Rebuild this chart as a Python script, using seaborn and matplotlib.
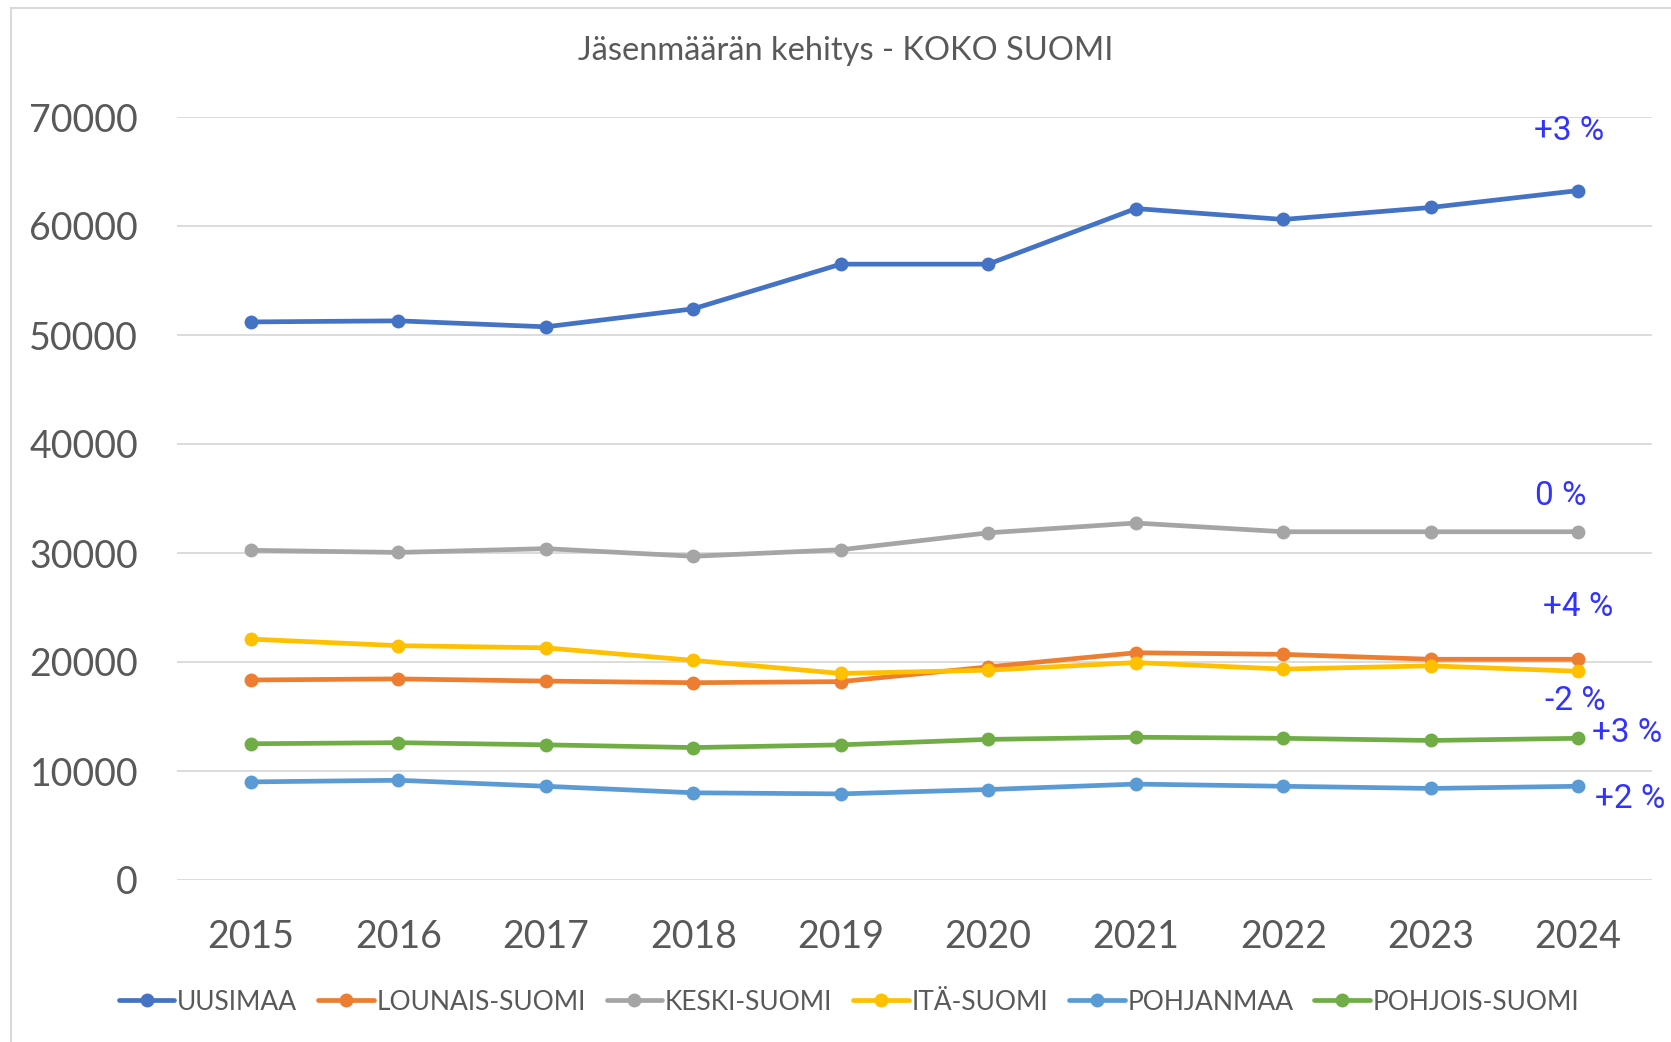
import matplotlib
matplotlib.use("Agg")
import matplotlib.pyplot as plt
import seaborn as sns
import pandas as pd
from matplotlib.patches import Rectangle

years = [2015, 2016, 2017, 2018, 2019, 2020, 2021, 2022, 2023, 2024]
regions = ["UUSIMAA", "LOUNAIS-SUOMI", "KESKI-SUOMI", "ITÄ-SUOMI", "POHJANMAA", "POHJOIS-SUOMI"]
uusimaa = [51200, 51300, 50750, 52400, 56500, 56500, 61600, 60600, 61700, 63250]
lounais = [18350, 18450, 18250, 18100, 18200, 19550, 20850, 20700, 20250, 20250]
keski = [30250, 30050, 30400, 29700, 30300, 31850, 32750, 31950, 31950, 31950]
ita = [22100, 21500, 21300, 20150, 18950, 19250, 19950, 19350, 19650, 19150]
pohjanmaa = [9000, 9150, 8600, 8000, 7900, 8300, 8800, 8600, 8400, 8600]
pohjois = [12500, 12600, 12400, 12150, 12400, 12900, 13100, 13000, 12800, 13000]
colors = ["#4472C4", "#ED7D31", "#A5A5A5", "#FFC000", "#5B9BD5", "#70AD47"]
changes = ["+3 %", "+4 %", "0 %", "-2 %", "+2 %", "+3 %"]
label_x = [2023.94, 2024.0, 2023.88, 2023.98, 2024.35, 2024.33]
label_y = [68700, 25050, 35200, 16400, 7400, 13500]

series = [uusimaa, lounais, keski, ita, pohjanmaa, pohjois]
rows = []
for reg, vals in zip(regions, series):
    for yr, v in zip(years, vals):
        rows.append({"year": yr, "value": v, "region": reg})
df = pd.DataFrame(rows)

sns.set_theme(style="white")
plt.rcParams["font.family"] = ["Lato", "DejaVu Sans"]

fig = plt.figure(figsize=(16.71, 10.42), dpi=100)
ax = fig.add_axes([177/1671, 1-880/1042, 1475/1671, 763/1042])

sns.lineplot(data=df, x="year", y="value", hue="region", hue_order=regions,
             palette=colors, marker="o", markersize=10, markeredgewidth=0,
             linewidth=3.4, ax=ax, legend=True)

ax.set_xlim(2014.5, 2024.5)
ax.set_ylim(0, 70000)
ax.set_xticks(years)
ax.set_xticklabels([str(y) for y in years])
ax.set_yticks(range(0, 70001, 10000))
ax.set_yticklabels([str(v) for v in range(0, 70001, 10000)])
ax.tick_params(axis="both", labelsize=27, colors="#595959", length=0)
ax.tick_params(axis="x", pad=28)
ax.tick_params(axis="y", pad=28)
ax.grid(axis="y", color="#D9D9D9", linewidth=1.3)
ax.set_axisbelow(True)
for s in ax.spines.values():
    s.set_visible(False)
ax.set_xlabel("")
ax.set_ylabel("")

for txt, x, y in zip(changes, label_x, label_y):
    ax.text(x, y, txt, color="#3333FF", fontsize=24,
            family=["Roboto", "DejaVu Sans"],
            ha="center", va="center", clip_on=False)

handles, labels = ax.get_legend_handles_labels()
ax.get_legend().remove()
fig.legend(handles, labels, loc="center", bbox_to_anchor=(849/1671, 1-1002/1042),
           ncol=6, frameon=False, fontsize=19, handlelength=2.1, handletextpad=0.1,
           columnspacing=0.8, labelcolor="#595959")

fig.text(846/1671, 1-51/1042, "Jäsenmäärän kehitys - KOKO SUOMI", ha="center", va="center",
         fontsize=23.5, color="#595959")

fig.patches.append(Rectangle((11/1671, -0.1), 1.2, 1.1 - 8/1042, transform=fig.transFigure,
                             fill=False, edgecolor="#D9D9D9", linewidth=1.5))

fig.savefig("out.png", dpi=100, facecolor="white")
